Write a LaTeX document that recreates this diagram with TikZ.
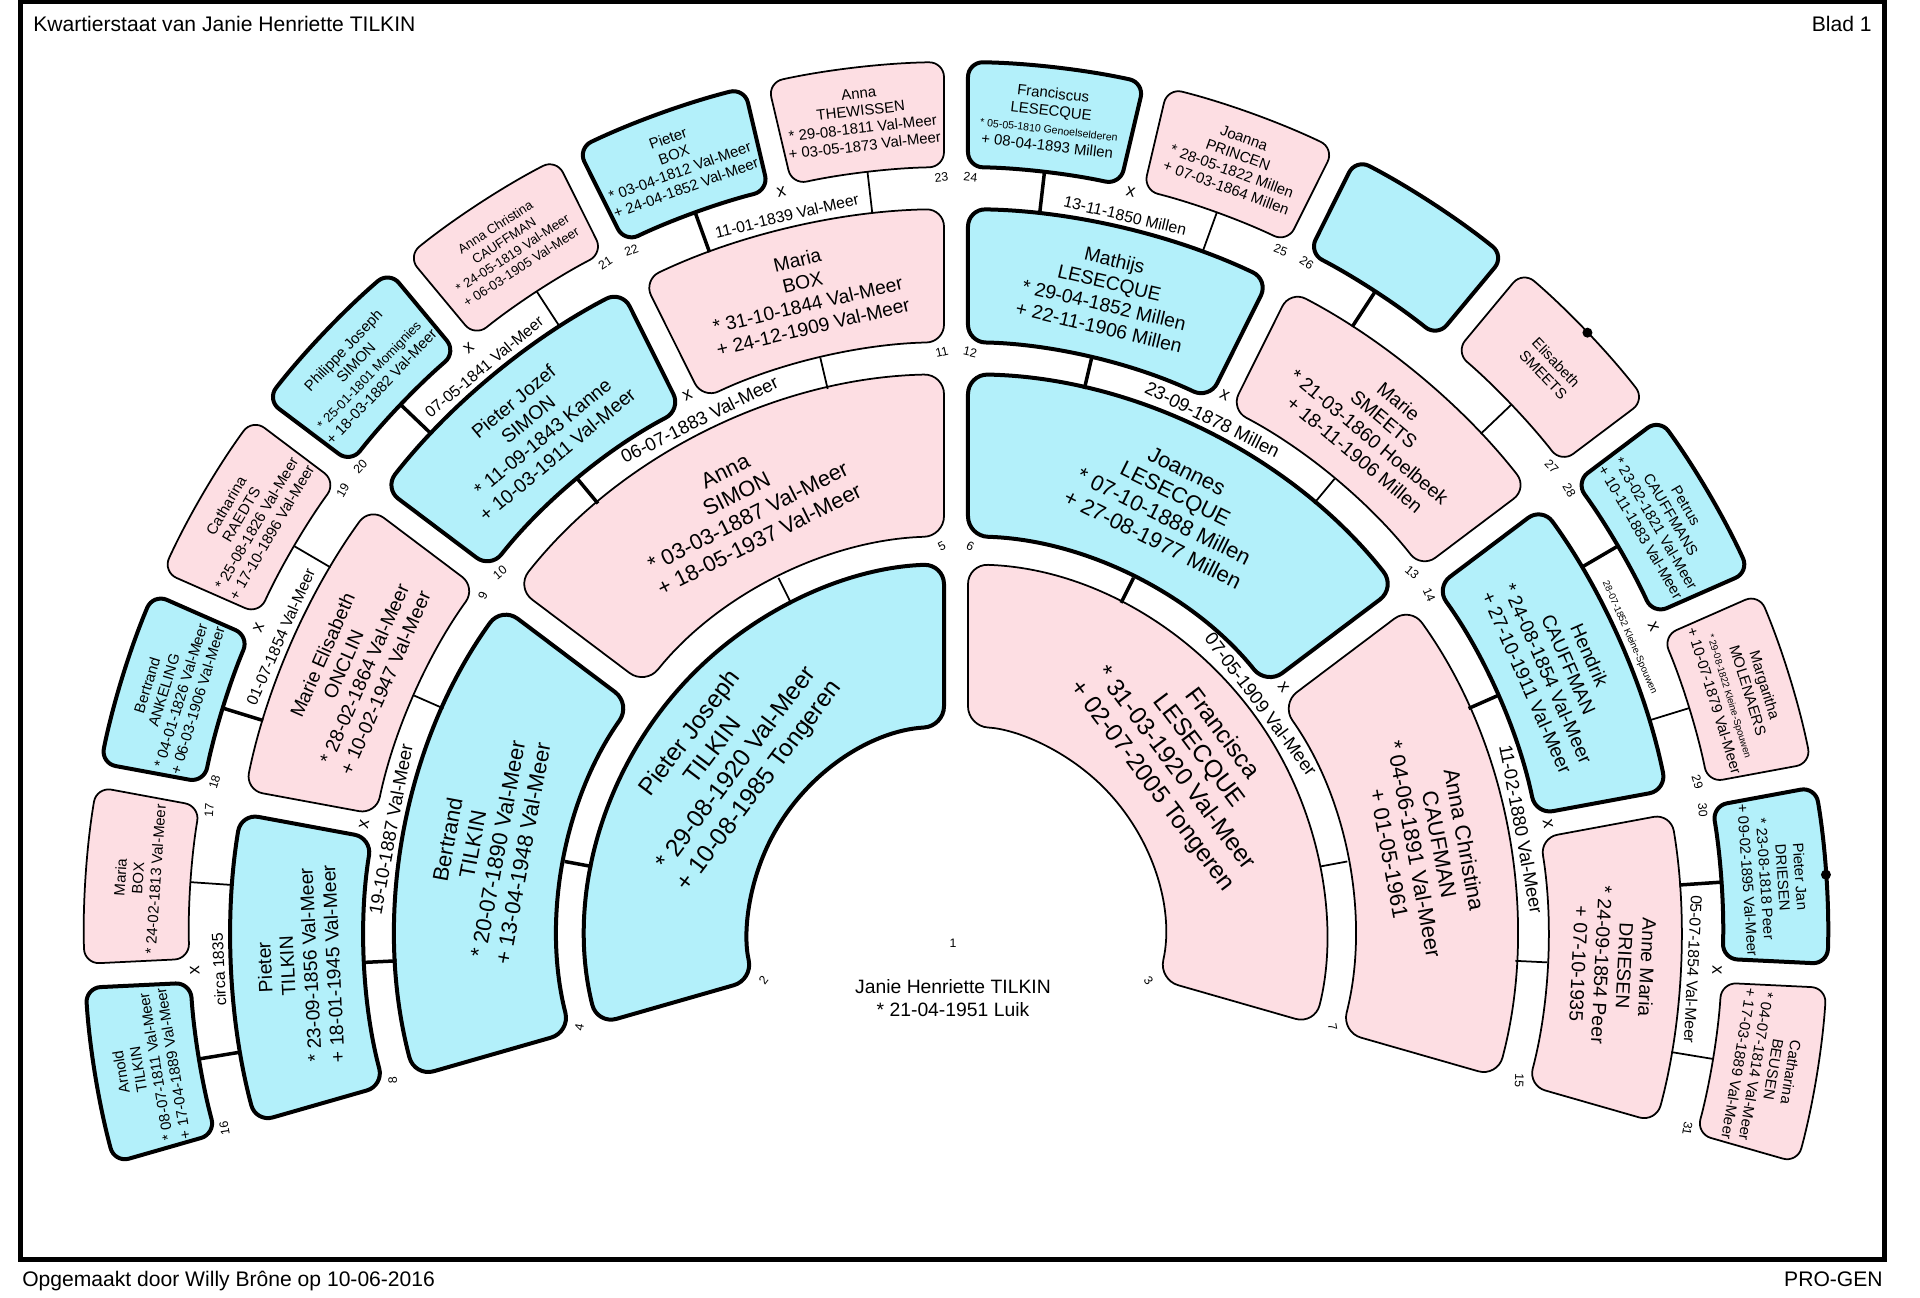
\documentclass[tikz,border=0pt]{standalone}
\usepackage{fontspec}
\usetikzlibrary{calc}
\setmainfont{Liberation Sans}
\definecolor{manblue}{RGB}{179,240,250}
\definecolor{womanpink}{RGB}{253,222,227}
% ring sector: name, style, high angle, low angle, inner r, outer r, r of child ring
\newcommand{\fangap}{12}
\newcommand{\fanbox}[7]{%
  \pgfmathsetmacro{\fbhi}{#3-asin(\fangap/#5)}%
  \pgfmathsetmacro{\fbho}{#3-asin(\fangap/#6)}%
  \pgfmathsetmacro{\fbli}{#4+asin(\fangap/#5)}%
  \pgfmathsetmacro{\fblo}{#4+asin(\fangap/#6)}%
  \pgfmathsetmacro{\fbmid}{(#3+#4)/2}%
  \draw[#2] ($(\fbhi:#5)!0.5!(\fbho:#6)$) -- (\fbho:#6)
    arc[start angle=\fbho, end angle=\fblo, radius=#6]
    -- (\fbli:#5) arc[start angle=\fbli, end angle=\fbhi, radius=#5]
    -- cycle;
  \coordinate (#1-in) at (\fbmid:#5);
  \coordinate (#1-foot) at (\fbmid:#7);
}
\tikzset{
  man/.style={draw, line width=0.8mm, fill=manblue},
  woman/.style={draw, line width=0.35mm, fill=womanpink},
  linkm/.style={line width=0.7mm},
  linkf/.style={line width=0.35mm},
  gentwo/.style={align=center, font=\fontsize{14}{16.5}\selectfont},
  genthree/.style={align=center, font=\fontsize{12.5}{14.5}\selectfont},
  genfour/.style={align=center, font=\fontsize{11}{13}\selectfont},
  genfive/.style={align=center, font=\fontsize{8.5}{10}\selectfont},
  nr/.style={font=\fontsize{7}{8}\selectfont, inner sep=0pt},
  wed/.style={font=\fontsize{10.5}{12}\selectfont, inner sep=0pt},
  wedfive/.style={font=\fontsize{9}{10}\selectfont, inner sep=0pt},
  wedx/.style={font=\fontsize{10}{11}\selectfont, inner sep=0pt},
  sheet/.style={font=\fontsize{12}{14}\selectfont, inner sep=0pt}
}
\begin{document}
\begin{tikzpicture}[x=0.2mm,y=0.2mm]
\useasboundingbox (-956,-364) rectangle (964,934);
\draw[line width=1mm] (-935.5,-326) rectangle (928.5,932);
\node[sheet, anchor=base west] (title) at (-923,902) {Kwartierstaat van Janie Henriette TILKIN};
\node[sheet, anchor=base east] (blad) at (916,902) {Blad 1};
\node[sheet, anchor=base west] (maker) at (-934,-353) {Opgemaakt door Willy Brône op 10-06-2016};
\node[sheet, anchor=base east] (progen) at (927,-353) {PRO-GEN};

% generation 2
\fanbox{b2}{man, rounded corners=4mm}{196}{90}{208}{370}{0}
\fanbox{b3}{woman, rounded corners=4mm}{90}{-16}{208}{370}{0}
% generation 3
\fanbox{b4}{man, rounded corners=4mm}{196}{143}{398}{560}{370}
\fanbox{b5}{woman, rounded corners=4mm}{143}{90}{398}{560}{370}
\fanbox{b6}{man, rounded corners=4mm}{90}{37}{398}{560}{370}
\fanbox{b7}{woman, rounded corners=4mm}{37}{-16}{398}{560}{370}
% generation 4
\fanbox{b8}{man, rounded corners=3.5mm}{196}{169.5}{592}{725}{560}
\fanbox{b9}{woman, rounded corners=3.5mm}{169.5}{143}{592}{725}{560}
\fanbox{b10}{man, rounded corners=3.5mm}{143}{116.5}{592}{725}{560}
\fanbox{b11}{woman, rounded corners=3.5mm}{116.5}{90}{592}{725}{560}
\fanbox{b12}{man, rounded corners=3.5mm}{90}{63.5}{592}{725}{560}
\fanbox{b13}{woman, rounded corners=3.5mm}{63.5}{37}{592}{725}{560}
\fanbox{b14}{man, rounded corners=3.5mm}{37}{10.5}{592}{725}{560}
\fanbox{b15}{woman, rounded corners=3.5mm}{10.5}{-16}{592}{725}{560}
% generation 5
\fanbox{b16}{man, rounded corners=3mm}{196}{182.75}{767}{872}{725}
\fanbox{b17}{woman, rounded corners=3mm}{182.75}{169.5}{767}{872}{725}
\fanbox{b18}{man, rounded corners=3mm}{169.5}{156.25}{767}{872}{725}
\fanbox{b19}{woman, rounded corners=3mm}{156.25}{143}{767}{872}{725}
\fanbox{b20}{man, rounded corners=3mm}{143}{129.75}{767}{872}{725}
\fanbox{b21}{woman, rounded corners=3mm}{129.75}{116.5}{767}{872}{725}
\fanbox{b22}{man, rounded corners=3mm}{116.5}{103.25}{767}{872}{725}
\fanbox{b23}{woman, rounded corners=3mm}{103.25}{90}{767}{872}{725}
\fanbox{b24}{man, rounded corners=3mm}{90}{76.75}{767}{872}{725}
\fanbox{b25}{woman, rounded corners=3mm}{76.75}{63.5}{767}{872}{725}
\fanbox{b26}{man, rounded corners=3mm}{63.5}{50.25}{767}{872}{725}
\fanbox{b27}{woman, rounded corners=3mm}{50.25}{37}{767}{872}{725}
\fanbox{b28}{man, rounded corners=3mm}{37}{23.75}{767}{872}{725}
\fanbox{b29}{woman, rounded corners=3mm}{23.75}{10.5}{767}{872}{725}
\fanbox{b30}{man, rounded corners=3mm}{10.5}{-2.75}{767}{872}{725}
\fanbox{b31}{woman, rounded corners=3mm}{-2.75}{-16}{767}{872}{725}

% parent to child
\draw[linkm] (b4-in) -- (b4-foot);
\draw[linkf] (b5-in) -- (b5-foot);
\draw[linkm] (b6-in) -- (b6-foot);
\draw[linkf] (b7-in) -- (b7-foot);
\draw[linkm] (b8-in) -- (b8-foot);
\draw[linkf] (b9-in) -- (b9-foot);
\draw[linkm] (b10-in) -- (b10-foot);
\draw[linkf] (b11-in) -- (b11-foot);
\draw[linkm] (b12-in) -- (b12-foot);
\draw[linkf] (b13-in) -- (b13-foot);
\draw[linkm] (b14-in) -- (b14-foot);
\draw[linkf] (b15-in) -- (b15-foot);
\draw[linkm] (b16-in) -- (b16-foot);
\draw[linkf] (b17-in) -- (b17-foot);
\draw[linkm] (b18-in) -- (b18-foot);
\draw[linkf] (b19-in) -- (b19-foot);
\draw[linkm] (b20-in) -- (b20-foot);
\draw[linkf] (b21-in) -- (b21-foot);
\draw[linkm] (b22-in) -- (b22-foot);
\draw[linkf] (b23-in) -- (b23-foot);
\draw[linkm] (b24-in) -- (b24-foot);
\draw[linkf] (b25-in) -- (b25-foot);
\draw[linkm] (b26-in) -- (b26-foot);
\draw[linkf] (b27-in) -- (b27-foot);
\draw[linkm] (b28-in) -- (b28-foot);
\draw[linkf] (b29-in) -- (b29-foot);
\draw[linkm] (b30-in) -- (b30-foot);
\draw[linkf] (b31-in) -- (b31-foot);
\fill (43.6:872) circle[radius=5];
\fill (3.9:872) circle[radius=5];

% persons
\node[nr] (n1) at (-3,-9) {1};
\node[align=center, font=\fontsize{11}{13}\selectfont] (p1) at (-3,-64) {Janie Henriette TILKIN\\* 21-04-1951 Luik};
\node[gentwo, rotate=53] (p2) at (143:289) {Pieter Joseph\\TILKIN\\* 29-08-1920 Val-Meer\\+ 10-08-1985 Tongeren};
\node[gentwo, rotate=-53] (p3) at (37:289) {Francisca\\LESECQUE\\* 31-03-1920 Val-Meer\\+ 02-07-2005 Tongeren};
\node[genthree, rotate=79.5] (p4) at (169.5:479) {Bertrand\\TILKIN\\* 20-07-1890 Val-Meer\\+ 13-04-1948 Val-Meer};
\node[genthree, rotate=26.5] (p5) at (116.5:479) {Anna\\SIMON\\* 03-03-1887 Val-Meer\\+ 18-05-1937 Val-Meer};
\node[genthree, rotate=-26.5] (p6) at (63.5:479) {Joannes\\LESECQUE\\* 07-10-1888 Millen\\+ 27-08-1977 Millen};
\node[genthree, rotate=-79.5] (p7) at (10.5:479) {Anna Christina\\CAUFMAN\\* 04-06-1891 Val-Meer\\+ 01-05-1961};
\node[genfour, rotate=92.75] (p8) at (182.75:658) {Pieter\\TILKIN\\* 23-09-1856 Val-Meer\\+ 18-01-1945 Val-Meer};
\node[genfour, rotate=66.25] (p9) at (156.25:658) {Marie Elisabeth\\ONCLIN\\* 28-02-1864 Val-Meer\\+ 10-02-1947 Val-Meer};
\node[genfour, rotate=39.75] (p10) at (129.75:658) {Pieter Jozef\\SIMON\\* 11-09-1843 Kanne\\+ 10-03-1911 Val-Meer};
\node[genfour, rotate=13.25] (p11) at (103.25:658) {Maria\\BOX\\* 31-10-1844 Val-Meer\\+ 24-12-1909 Val-Meer};
\node[genfour, rotate=-13.25] (p12) at (76.75:658) {Mathijs\\LESECQUE\\* 29-04-1852 Millen\\+ 22-11-1906 Millen};
\node[genfour, rotate=-39.75] (p13) at (50.25:658) {Marie\\SMEETS\\* 21-03-1860 Hoelbeek\\+ 18-11-1906 Millen};
\node[genfour, rotate=-66.25] (p14) at (23.75:658) {Hendrik\\CAUFFMAN\\* 24-08-1854 Val-Meer\\+ 27-10-1911 Val-Meer};
\node[genfour, rotate=-92.75] (p15) at (-2.75:658) {Anne Maria\\DRIESEN\\* 24-09-1854 Peer\\+ 07-10-1935};
\node[genfive, rotate=99.4] (p16) at (189.4:820) {Arnold\\TILKIN\\* 08-07-1811 Val-Meer\\+ 17-04-1889 Val-Meer};
\node[genfive, rotate=86.1] (p17) at (176.1:820) {Maria\\BOX\\* 24-02-1813 Val-Meer};
\node[genfive, rotate=72.9] (p18) at (162.9:820) {Bertrand\\ANKELING\\* 04-01-1826 Val-Meer\\+ 06-03-1906 Val-Meer};
\node[genfive, rotate=59.6] (p19) at (149.6:820) {Catharina\\RAEDTS\\* 25-08-1826 Val-Meer\\+ 17-10-1896 Val-Meer};
\node[genfive, rotate=46.4] (p20) at (136.4:820) {Philippe Joseph\\SIMON\\{\fontsize{7.5}{9}\selectfont * 25-01-1801 Momignies}\\+ 18-03-1882 Val-Meer};
\node[genfive, font=\fontsize{7.5}{9}\selectfont, rotate=33.1] (p21) at (123.1:820) {Anna Christina\\CAUFFMAN\\* 24-05-1819 Val-Meer\\+ 06-03-1905 Val-Meer};
\node[genfive, rotate=19.9] (p22) at (109.9:820) {Pieter\\BOX\\* 03-04-1812 Val-Meer\\+ 24-04-1852 Val-Meer};
\node[genfive, rotate=6.6] (p23) at (96.6:820) {Anna\\THEWISSEN\\* 29-08-1811 Val-Meer\\+ 03-05-1873 Val-Meer};
\node[genfive, rotate=-6.6] (p24) at (83.4:820) {Franciscus\\LESECQUE\\{\fontsize{6}{7}\selectfont * 05-05-1810 Genoelselderen}\\+ 08-04-1893 Millen};
\node[genfive, rotate=-19.9] (p25) at (70.1:820) {Joanna\\PRINCEN\\* 28-05-1822 Millen\\+ 07-03-1864 Millen};
\node[genfive, rotate=-46.4] (p27) at (43.6:820) {Elisabeth\\SMEETS};
\node[genfive, rotate=-59.6] (p28) at (30.4:820) {Petrus\\CAUFFMANS\\* 23-02-1821 Val-Meer\\+ 10-11-1883 Val-Meer};
\node[genfive, rotate=-72.9] (p29) at (17.1:820) {Margaritha\\MOLENAERS\\{\fontsize{5.5}{7}\selectfont * 29-08-1822 Kleine-Spouwen}\\+ 10-07-1879 Val-Meer};
\node[genfive, rotate=-86.1] (p30) at (3.9:820) {Pieter Jan\\DRIESEN\\* 23-08-1818 Peer\\+ 09-02-1895 Val-Meer};
\node[genfive, rotate=-99.4] (p31) at (-9.4:820) {Catharina\\BEUSEN\\* 04-07-1814 Val-Meer\\+ 17-03-1889 Val-Meer};

% numbers
\node[nr, rotate=53] (n2) at (193.5:198) {2};
\node[nr, rotate=-53] (n3) at (-13.5:198) {3};
\node[nr, rotate=79.5] (n4) at (193.9:388) {4};
\node[nr, rotate=26.5] (n5) at (92.1:388) {5};
\node[nr, rotate=-26.5] (n6) at (87.9:388) {6};
\node[nr, rotate=-79.5] (n7) at (-13.9:388) {7};
\node[nr, rotate=92.75] (n8) at (194.6:582) {8};
\node[nr, rotate=66.25] (n9) at (144.4:582) {9};
\node[nr, rotate=39.75] (n10) at (141.6:582) {10};
\node[nr, rotate=13.25] (n11) at (91.4:582) {11};
\node[nr, rotate=-13.25] (n12) at (88.6:582) {12};
\node[nr, rotate=-39.75] (n13) at (38.4:582) {13};
\node[nr, rotate=-66.25] (n14) at (35.6:582) {14};
\node[nr, rotate=-92.75] (n15) at (-14.6:582) {15};
\node[nr, rotate=99.4] (n16) at (194.9:757) {16};
\node[nr, rotate=86.1] (n17) at (170.6:757) {17};
\node[nr, rotate=72.9] (n18) at (168.4:757) {18};
\node[nr, rotate=59.6] (n19) at (144.1:757) {19};
\node[nr, rotate=46.4] (n20) at (141.9:757) {20};
\node[nr, rotate=33.1] (n21) at (117.6:757) {21};
\node[nr, rotate=19.9] (n22) at (115.4:757) {22};
\node[nr, rotate=6.6] (n23) at (91.1:757) {23};
\node[nr, rotate=-6.6] (n24) at (88.9:757) {24};
\node[nr, rotate=-19.9] (n25) at (64.6:757) {25};
\node[nr, rotate=-33.1] (n26) at (62.4:757) {26};
\node[nr, rotate=-46.4] (n27) at (38.1:757) {27};
\node[nr, rotate=-59.6] (n28) at (35.9:757) {28};
\node[nr, rotate=-72.9] (n29) at (11.6:757) {29};
\node[nr, rotate=-86.1] (n30) at (9.4:757) {30};
\node[nr, rotate=-99.4] (n31) at (-14.9:757) {31};

% marriages
\node[wed, rotate=-53] (m6) at (37:382) {07-05-1909 Val-Meer};
\node[wedx, rotate=-53] (x6) at (37:410) {x};
\node[wed, rotate=79.5] (m8) at (169.5:575) {19-10-1887 Val-Meer};
\node[wedx, rotate=79.5] (x8) at (169.5:602) {x};
\node[wed, rotate=26.5] (m10) at (116.5:575) {06-07-1883 Val-Meer};
\node[wedx, rotate=26.5] (x10) at (116.5:602) {x};
\node[wed, rotate=-26.5] (m12) at (63.5:575) {23-09-1878 Millen};
\node[wedx, rotate=-26.5] (x12) at (63.5:602) {x};
\node[wed, rotate=-79.5] (m14) at (10.5:575) {11-02-1880 Val-Meer};
\node[wedx, rotate=-79.5] (x14) at (10.5:602) {x};
\node[wedfive, rotate=92.75] (m16) at (182.75:738) {circa 1835};
\node[wedx, rotate=92.75] (x16) at (182.75:762) {x};
\node[wedfive, rotate=66.25] (m18) at (156.25:738) {01-07-1854 Val-Meer};
\node[wedx, rotate=66.25] (x18) at (156.25:762) {x};
\node[wedfive, rotate=39.75] (m20) at (129.75:738) {07-05-1841 Val-Meer};
\node[wedx, rotate=39.75] (x20) at (129.75:762) {x};
\node[wedfive, rotate=13.25] (m22) at (103.25:738) {11-01-1839 Val-Meer};
\node[wedx, rotate=13.25] (x22) at (103.25:762) {x};
\node[wedfive, rotate=-13.25] (m24) at (76.75:738) {13-11-1850 Millen};
\node[wedx, rotate=-13.25] (x24) at (76.75:762) {x};
\node[wedfive, font=\fontsize{5.5}{7}\selectfont, rotate=-66.25] (m28) at (23.75:736) {28-07-1852 Kleine-Spouwen};
\node[wedx, rotate=-66.25] (x28) at (23.75:762) {x};
\node[wedfive, rotate=-92.75] (m30) at (-2.75:738) {05-07-1854 Val-Meer};
\node[wedx, rotate=-92.75] (x30) at (-2.75:762) {x};
\end{tikzpicture}
\end{document}
